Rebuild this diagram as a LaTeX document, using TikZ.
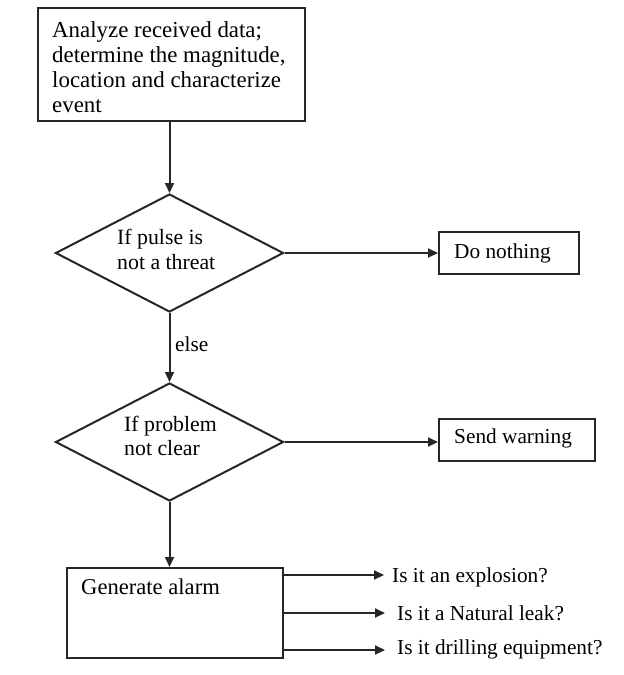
\documentclass[tikz,border=0pt]{standalone}
\usepackage{fontspec}
\setmainfont{Liberation Serif}
\usetikzlibrary{shapes.geometric,arrows.meta}
\begin{document}
\begin{tikzpicture}[x=1pt,y=-1pt,
  line/.style={line width=2pt, draw=black!85},
  arr/.style={line, -{Triangle[length=10pt,width=9pt]}},
  boxshape/.style={draw=black!85, line width=2pt, rectangle, inner sep=0pt},
  decshape/.style={draw=black!85, line width=2pt, diamond, inner sep=0pt, minimum width=228pt, minimum height=118pt},
  txt/.style={inner sep=0pt, anchor=base west, font=\fontsize{21.3}{25}\selectfont, text=black},
  bigtxt/.style={inner sep=0pt, anchor=base west, align=left, font=\fontsize{22.9}{25}\selectfont, text=black}
]
\useasboundingbox (0,0) rectangle (624,675);
% shapes
\node[boxshape, minimum width=267pt, minimum height=113pt] (top) at (171.5,64.5) {};
\node[decshape] (d1) at (169.5,253) {};
\node[boxshape, minimum width=140pt, minimum height=42pt] (nothing) at (509,253) {};
\node[decshape] (d2) at (169.5,442) {};
\node[boxshape, minimum width=156pt, minimum height=42pt] (warn) at (517,440) {};
\node[boxshape, minimum width=216pt, minimum height=90pt] (alarm) at (175,613) {};
% texts (base anchor = baseline of the last line)
\node[bigtxt] (ttop) at (52,112) {Analyze received data;\\determine the magnitude,\\location and characterize\\event};
\node[txt, align=left, font=\fontsize{21.8}{25}\selectfont] (td1) at (117,269) {If pulse is\\not a threat};
\node[txt, align=left, font=\fontsize{21.8}{24}\selectfont] (td2) at (124,455) {If problem\\not clear};
\node[txt] (tnothing) at (454,258) {Do nothing};
\node[txt] (twarn) at (454,443) {Send warning};
\node[txt, font=\fontsize{22.6}{25}\selectfont] (talarm) at (81,594) {Generate alarm};
\node[txt] (else) at (175,351) {else};
\node[txt] (q1) at (392,582) {Is it an explosion?};
\node[txt] (q2) at (397,620) {Is it a Natural leak?};
\node[txt] (q3) at (397,654) {Is it drilling equipment?};
\coordinate (e1) at (384,575);
\coordinate (e2) at (385,613);
\coordinate (e3) at (385,650);
% connectors
\draw[arr] (d1.north |- top.south) -- (d1.north);
\draw[arr] (d1.east) -- (d1.east -| nothing.west);
\draw[arr] (d1.south) -- (d2.north);
\draw[arr] (d2.east) -- (d2.east -| warn.west);
\draw[arr] (d2.south) -- (d2.south |- alarm.north);
\draw[arr] (alarm.east |- e1) -- (e1);
\draw[arr] (alarm.east |- e2) -- (e2);
\draw[arr] (alarm.east |- e3) -- (e3);
\end{tikzpicture}
\end{document}
